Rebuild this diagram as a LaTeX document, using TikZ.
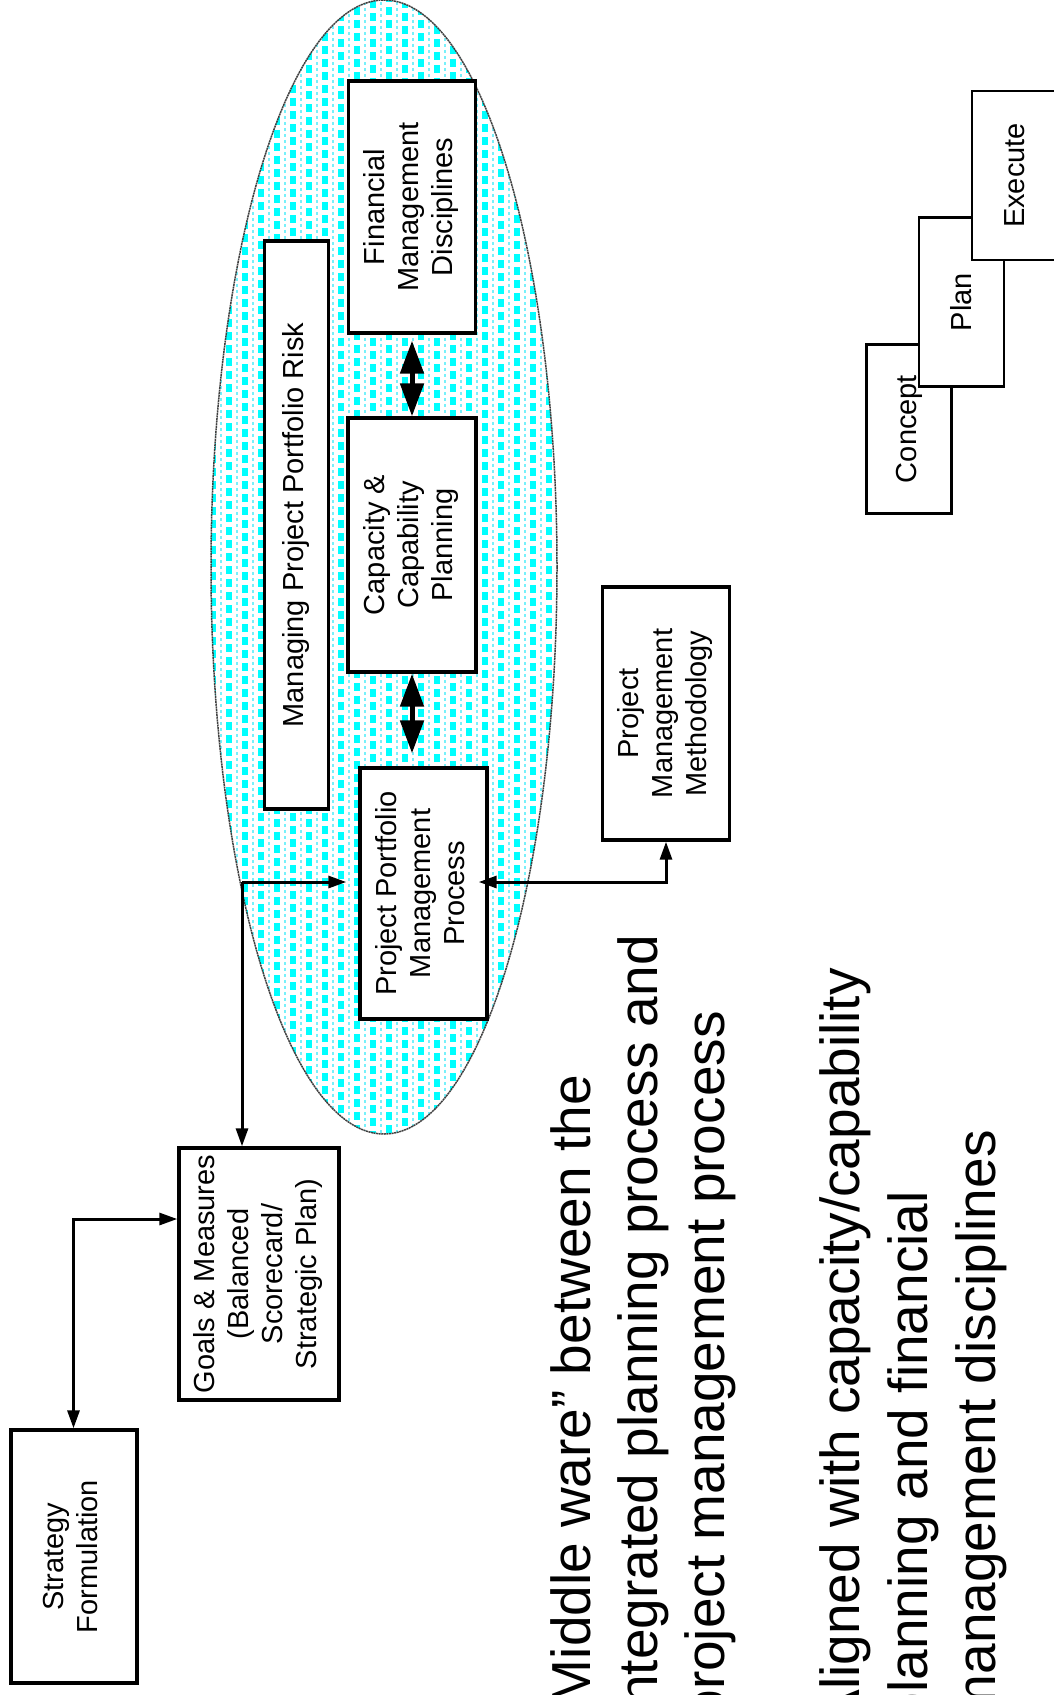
\documentclass[tikz,border=0pt]{standalone}
\usepackage{fontspec}
\setmainfont{Liberation Sans}
\usepackage{graphicx}
\usetikzlibrary{arrows.meta}

\definecolor{aqua}{RGB}{0,255,255}
\definecolor{aqualight}{RGB}{120,240,250}

\tikzset{
  ttip/.tip={Triangle[length=18pt,width=12pt]},
  btip/.tip={Triangle[length=33pt,width=23pt]},
  box/.style={draw=black, line width=3.4pt, fill=white, inner sep=0pt,
    font=\fontsize{29}{34}\selectfont},
  stage/.style={draw=black, line width=2.8pt, fill=white, inner sep=0pt,
    minimum width=85pt, minimum height=169pt, font=\fontsize{29}{34}\selectfont},
  link/.style={line width=3pt},
  bigarrow/.style={line width=5pt, btip-btip},
  bigtext/.style={rotate=90, anchor=base east, inner sep=0pt,
    font=\fontsize{55}{66}\selectfont},
}
\newcommand{\vtext}[1]{\rotatebox{90}{\begin{tabular}{@{}c@{}}#1\end{tabular}}}

\begin{document}
\begin{tikzpicture}[x=1pt, y=-1pt]
\path[use as bounding box] (0,0) rectangle (1054,1695);
\clip (0,0) rectangle (1054,1695);

% patterned ellipse
\begin{scope}
  \clip (384,567) ellipse [x radius=173, y radius=567];
  \fill[white] (200,0) rectangle (570,1140);
  \foreach \k in {0,...,22} {
    \pgfmathsetmacro{\ph}{mod(\k,2)*6}
    \draw[aqua, line width=6pt, dash pattern=on 8pt off 5pt, dash phase=\ph pt]
      (213+16*\k,0) -- (213+16*\k,1140);
    \draw[aqualight, line width=2.5pt, dash pattern=on 3pt off 3pt]
      (221+16*\k,2) -- (221+16*\k,1140);
  }
\end{scope}
\draw[black!75, line width=1.5pt, dash pattern=on 2pt off 0.6pt]
  (384,567) ellipse [x radius=173, y radius=567];

% boxes inside the ellipse
\node[box, minimum width=64pt, minimum height=568pt] (risk) at (296.5,525)
  {\vtext{Managing Project Portfolio Risk}};
\node[box, minimum width=127pt, minimum height=252pt] (fin) at (412,207)
  {\vtext{Financial\\Management\\Disciplines}};
\node[box, minimum width=128pt, minimum height=254pt] (cap) at (412,545)
  {\vtext{Capacity \&\\Capability\\Planning}};
\node[box, minimum width=127pt, minimum height=251pt] (ppmp) at (423.5,893.5)
  {\vtext{Project Portfolio\\Management\\Process}};

\draw[bigarrow, shorten <=6pt] (fin.south) -- (cap.north);
\draw[bigarrow, shorten >=13pt] (cap.south) -- (ppmp.north -| cap.south);

% boxes outside the ellipse
\node[box, minimum width=127pt, minimum height=253pt] (pmm) at (666,713.5)
  {\vtext{Project\\Management\\Methodology}};
\node[box, minimum width=160pt, minimum height=252pt] (goals) at (259,1274)
  {\vtext{Goals \& Measures\\(Balanced\\Scorecard/\\Strategic Plan)}};
\node[box, minimum width=126pt, minimum height=253pt] (strat) at (74,1556.5)
  {\vtext{Strategy\\Formulation}};

% connectors
\coordinate (j1) at (242,882);
\coordinate (k1) at (73.5,1219);
\coordinate (k2) at (666,882);
\draw[link, -ttip, shorten >=12pt] (j1) -- (ppmp.west |- j1);
\draw[link, -ttip] (j1) -- (goals.north -| j1);
\draw[link, ttip-ttip, shorten <=-10pt] (ppmp.east |- k2) -- (k2) -- (pmm.south -| k2);
\draw[link, ttip-ttip] (goals.west |- k1) -- (k1) -- (strat.north -| k1);

% stages
\node[stage] (concept) at (909,429) {\rotatebox{90}{Concept}};
\node[stage] (plan) at (961.5,302) {\rotatebox{90}{Plan}};
\node[stage] (exec) at (1014.5,175.5) {\rotatebox{90}{Execute}};

% statements
\node[bigtext] (m1) at (590,1075) {“Middle ware” between the};
\node[bigtext] (m2) at (657,935) {integrated planning process and};
\node[bigtext] (m3) at (724,1011) {project management process};
\node[bigtext] (a1) at (859,968) {Aligned with capacity/capability};
\node[bigtext] (a2) at (927,1191) {planning and financial};
\node[bigtext] (a3) at (995,1130) {management disciplines};
\end{tikzpicture}
\end{document}
